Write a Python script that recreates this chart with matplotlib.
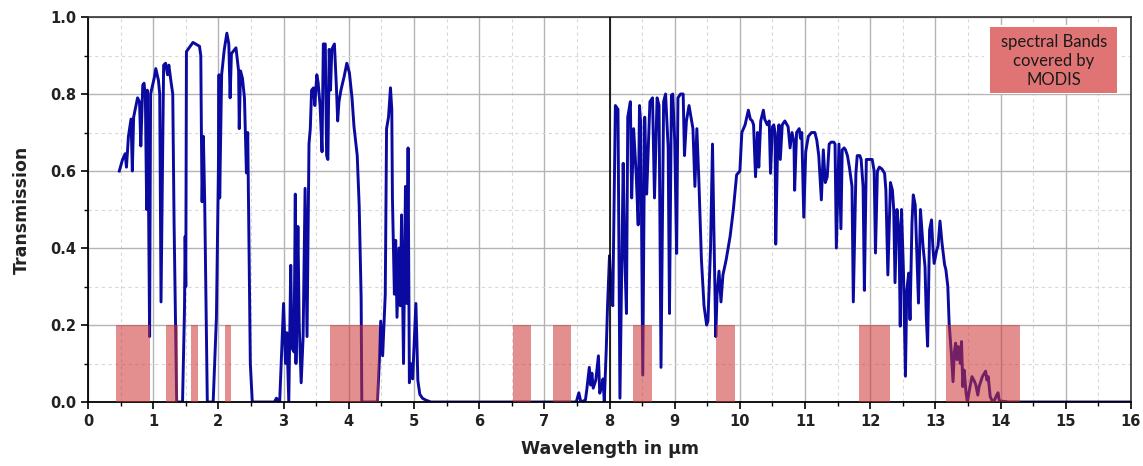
import matplotlib
matplotlib.use("Agg")
import matplotlib.pyplot as plt
from matplotlib.patches import Rectangle
from matplotlib.ticker import MultipleLocator, FormatStrFormatter

# ---- data -------------------------------------------------------------
# atmospheric transmission, window 1 (visible / near IR)
wl_1 = [0.48, 0.53, 0.57, 0.59, 0.62, 0.66, 0.68, 0.70, 0.76, 0.79, 0.81, 0.84,
        0.86, 0.88, 0.90, 0.91, 0.93, 0.945, 0.96, 1.02, 1.04, 1.08, 1.10, 1.12,
        1.16, 1.19, 1.22, 1.24, 1.27, 1.30, 1.32, 1.36, 1.45, 1.48, 1.49, 1.50,
        1.51, 1.53, 1.61, 1.71, 1.73, 1.74, 1.75, 1.77, 1.79, 1.83, 1.92, 1.97,
        2.00, 2.01, 2.02, 2.05, 2.09, 2.13, 2.16, 2.18, 2.20, 2.27, 2.31, 2.32,
        2.34, 2.37, 2.40, 2.43, 2.45, 2.49, 2.52]
tr_1 = [0.60, 0.63, 0.645, 0.61, 0.69, 0.735, 0.60, 0.74, 0.79, 0.78, 0.665, 0.823,
        0.828, 0.79, 0.50, 0.81, 0.49, 0.17, 0.80, 0.845, 0.866, 0.836, 0.80, 0.26,
        0.875, 0.88, 0.85, 0.875, 0.836, 0.80, 0.47, 0.0, 0.0, 0.24, 0.43, 0.30,
        0.91, 0.915, 0.934, 0.924, 0.90, 0.69, 0.52, 0.69, 0.52, 0.0, 0.0, 0.22,
        0.60, 0.85, 0.53, 0.85, 0.915, 0.958, 0.93, 0.79, 0.905, 0.92, 0.86, 0.71,
        0.86, 0.84, 0.79, 0.595, 0.70, 0.10, 0.0]

# window 2 (3 - 5 um)
wl_2 = [2.86, 2.89, 2.94, 3.00, 3.03, 3.05, 3.08, 3.11, 3.13, 3.16, 3.18, 3.19,
        3.22, 3.24, 3.27, 3.30, 3.33, 3.36, 3.39, 3.41, 3.43, 3.46, 3.48, 3.51,
        3.53, 3.56, 3.59, 3.61, 3.64, 3.66, 3.68, 3.70, 3.72, 3.74, 3.78, 3.81,
        3.83, 3.85, 3.88, 3.93, 3.97, 4.01, 4.05, 4.08, 4.13, 4.16, 4.19, 4.20,
        4.44, 4.47, 4.49, 4.52, 4.56, 4.58, 4.61, 4.64, 4.66, 4.67, 4.70, 4.72,
        4.74, 4.77, 4.79, 4.81, 4.84, 4.87, 4.89, 4.91, 4.93, 4.95, 4.98, 5.03,
        5.06, 5.09, 5.13, 5.18, 5.26]
tr_2 = [0.0, 0.01, 0.0, 0.256, 0.10, 0.18, 0.0, 0.355, 0.14, 0.13, 0.54, 0.10,
        0.456, 0.20, 0.05, 0.17, 0.555, 0.17, 0.67, 0.71, 0.81, 0.816, 0.77, 0.85,
        0.83, 0.77, 0.65, 0.93, 0.93, 0.64, 0.63, 0.916, 0.81, 0.916, 0.93, 0.82,
        0.73, 0.78, 0.81, 0.846, 0.88, 0.855, 0.79, 0.716, 0.64, 0.51, 0.27, 0.0,
        0.0, 0.11, 0.21, 0.12, 0.28, 0.71, 0.74, 0.816, 0.76, 0.53, 0.28, 0.42,
        0.22, 0.40, 0.25, 0.486, 0.10, 0.56, 0.256, 0.66, 0.05, 0.10, 0.06, 0.256,
        0.056, 0.02, 0.01, 0.005, 0.0]

# window 3 (8 - 14 um)
wl_3 = [7.49, 7.53, 7.56, 7.63, 7.65, 7.69, 7.71, 7.73, 7.75, 7.79, 7.83, 7.85,
        7.88, 7.90, 7.92, 7.95, 7.97, 8.00, 8.02, 8.05, 8.07, 8.09, 8.13, 8.16,
        8.21, 8.23, 8.26, 8.28, 8.32, 8.34, 8.37, 8.41, 8.44, 8.46, 8.48, 8.51,
        8.54, 8.57, 8.62, 8.66, 8.69, 8.73, 8.76, 8.79, 8.83, 8.86, 8.90, 8.92,
        8.95, 8.97, 9.00, 9.03, 9.05, 9.09, 9.13, 9.15, 9.18, 9.22, 9.25, 9.28,
        9.31, 9.34, 9.37, 9.41, 9.45, 9.49, 9.51, 9.55, 9.58, 9.60, 9.63, 9.65,
        9.68, 9.71, 9.74, 9.79, 9.85, 9.90, 9.95, 10.00,
        10.03, 10.08, 10.13, 10.16, 10.19, 10.21, 10.24, 10.27, 10.29, 10.32, 10.36, 10.38,
        10.42, 10.45, 10.47, 10.50, 10.52, 10.54, 10.55, 10.58, 10.60, 10.62, 10.65, 10.69,
        10.74, 10.77, 10.80, 10.83, 10.84, 10.87, 10.91, 10.93, 10.95, 10.98, 11.01, 11.05,
        11.10, 11.15, 11.18, 11.21, 11.25, 11.28, 11.31, 11.34, 11.37, 11.40, 11.44, 11.46,
        11.48, 11.52, 11.55, 11.57, 11.60, 11.62, 11.65, 11.68, 11.72, 11.74, 11.78, 11.80,
        11.84, 11.86, 11.89, 11.91, 11.94, 11.98, 12.03, 12.06, 12.08, 12.11, 12.14, 12.18,
        12.22, 12.24, 12.27, 12.31, 12.34, 12.36, 12.38, 12.41, 12.44, 12.46, 12.48, 12.51,
        12.54, 12.56, 12.59, 12.61, 12.64, 12.66, 12.69, 12.72, 12.74, 12.77, 12.81, 12.84,
        12.86, 12.88, 12.91, 12.94, 12.96, 12.98, 13.02, 13.04, 13.07, 13.10, 13.14, 13.16,
        13.19, 13.21, 13.24, 13.27, 13.29, 13.31, 13.33, 13.35, 13.38, 13.40, 13.42, 13.44,
        13.47, 13.49, 13.52, 13.56, 13.60, 13.62, 13.65, 13.67, 13.72, 13.77, 13.79, 13.81,
        13.84, 13.87, 13.90, 13.94, 13.96, 13.98, 14.03, 14.13, 16.0]
tr_3 = [0.0, 0.024, 0.0, 0.005, 0.03, 0.09, 0.044, 0.075, 0.036, 0.057, 0.12, 0.023,
        0.04, 0.06, 0.0, 0.136, 0.25, 0.38, 0.30, 0.25, 0.50, 0.77, 0.76, 0.01,
        0.62, 0.40, 0.23, 0.74, 0.78, 0.53, 0.71, 0.59, 0.46, 0.77, 0.72, 0.07,
        0.74, 0.54, 0.78, 0.79, 0.53, 0.79, 0.77, 0.09, 0.78, 0.80, 0.66, 0.23,
        0.797, 0.80, 0.68, 0.386, 0.79, 0.80, 0.80, 0.64, 0.73, 0.77, 0.74, 0.71,
        0.56, 0.71, 0.58, 0.37, 0.25, 0.20, 0.21, 0.40, 0.67, 0.46, 0.17, 0.28,
        0.34, 0.26, 0.33, 0.37, 0.43, 0.50, 0.59, 0.60,
        0.70, 0.72, 0.758, 0.735, 0.73, 0.72, 0.585, 0.70, 0.61, 0.73, 0.758, 0.735,
        0.72, 0.73, 0.594, 0.715, 0.72, 0.70, 0.41, 0.68, 0.72, 0.63, 0.72, 0.73,
        0.715, 0.66, 0.70, 0.675, 0.55, 0.70, 0.71, 0.685, 0.70, 0.48, 0.65, 0.69,
        0.70, 0.70, 0.68, 0.64, 0.525, 0.655, 0.57, 0.585, 0.67, 0.675, 0.675, 0.67,
        0.40, 0.67, 0.45, 0.655, 0.66, 0.655, 0.64, 0.61, 0.56, 0.26, 0.594, 0.64,
        0.64, 0.63, 0.56, 0.29, 0.63, 0.63, 0.63, 0.60, 0.387, 0.60, 0.61, 0.605,
        0.594, 0.55, 0.33, 0.57, 0.55, 0.50, 0.31, 0.50, 0.447, 0.197, 0.50, 0.335,
        0.067, 0.29, 0.335, 0.214, 0.465, 0.538, 0.512, 0.36, 0.257, 0.50, 0.404, 0.352,
        0.22, 0.145, 0.447, 0.473, 0.404, 0.36, 0.395, 0.405, 0.47, 0.414, 0.357, 0.344,
        0.30, 0.205, 0.136, 0.053, 0.13, 0.153, 0.11, 0.144, 0.10, 0.157, 0.04, 0.083,
        0.023, 0.0, 0.03, 0.066, 0.053, 0.044, 0.018, 0.04, 0.066, 0.08, 0.057, 0.066,
        0.014, 0.003, 0.003, 0.018, 0.024, 0.003, 0.002, 0.0, 0.0]

# MODIS spectral bands (start, end) in um
band_start = [0.425, 1.20, 1.585, 2.105, 3.71, 6.52, 7.13, 8.365, 9.63, 11.83, 13.16]
band_end = [0.95, 1.375, 1.68, 2.20, 4.47, 6.80, 7.41, 8.65, 9.92, 12.30, 14.29]
band_height = 0.2

x_ticks = list(range(0, 17))
y_ticks = [0.0, 0.2, 0.4, 0.6, 0.8, 1.0]
legend_text = "spectral Bands\ncovered by\nMODIS"

# ---- figure -----------------------------------------------------------
wavelength = wl_1 + wl_2 + wl_3
transmission = tr_1 + tr_2 + tr_3

fig = plt.figure(figsize=(11.43, 4.66), dpi=100)
ax = fig.add_axes([0.077, 0.1373, 0.9125, 0.8262])

ax.set_xlim(0, 16)
ax.set_ylim(0, 1.0)

ax.set_xticks(x_ticks)
ax.set_yticks(y_ticks)
ax.xaxis.set_minor_locator(MultipleLocator(0.5))
ax.yaxis.set_minor_locator(MultipleLocator(0.1))
ax.yaxis.set_major_formatter(FormatStrFormatter("%.1f"))

ax.grid(which="major", color="#b4b4b4", linestyle="-", linewidth=1.0, zorder=0)
ax.grid(which="minor", color="#d8d8d8", linestyle=(0, (3, 3)), linewidth=0.8, zorder=0)
ax.set_axisbelow(True)

ax.plot(wavelength, transmission, color="#0a0aa0", linewidth=2.1, zorder=2,
        solid_joinstyle="round")

for s, e in zip(band_start, band_end):
    ax.bar((s + e) / 2, band_height, width=e - s, color="#cc3333", alpha=0.55,
           linewidth=0, zorder=3)

ax.axvline(8, color="black", linewidth=1.2, zorder=4)

ax.tick_params(axis="both", which="major", direction="out", length=5, width=1.2,
               labelsize=10.5, colors="black")
ax.tick_params(axis="both", which="minor", direction="out", length=3, width=1.0)
for lab in ax.get_xticklabels() + ax.get_yticklabels():
    lab.set_fontweight("bold")
    lab.set_color("#222222")

for sp in ["left", "bottom"]:
    ax.spines[sp].set_linewidth(1.3)
    ax.spines[sp].set_color("black")
for sp in ["top", "right"]:
    ax.spines[sp].set_linewidth(1.2)
    ax.spines[sp].set_color("#333333")

ax.set_xlabel("Wavelength in µm", fontsize=12.5, fontweight="bold", color="#222222",
              labelpad=8)
ax.set_ylabel("Transmission", fontsize=12.5, fontweight="bold", color="#222222",
              labelpad=14)

# legend box
ax.add_patch(Rectangle((0.859, 0.800), 0.130, 0.178, transform=ax.transAxes,
                       facecolor="white", edgecolor="none", zorder=5))
ax.add_patch(Rectangle((0.865, 0.803), 0.1216, 0.171, transform=ax.transAxes,
                       facecolor="#e07474", edgecolor="none", zorder=6))
ax.text(0.926, 0.886, legend_text, transform=ax.transAxes, ha="center", va="center",
        fontsize=12, color="#1a1a1a", family=["Lato", "DejaVu Sans"],
        linespacing=1.2, zorder=7)

fig.savefig("out.png", dpi=100)
